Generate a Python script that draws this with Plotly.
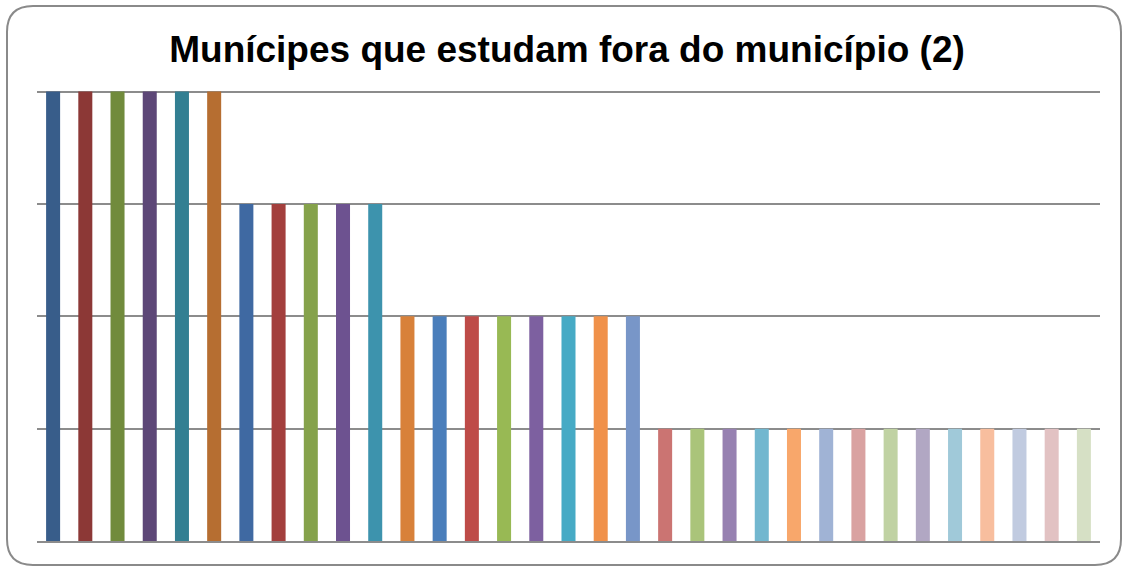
import plotly.graph_objects as go

# Bar categories (no visible labels on the axis) and their counts
categories = [f"M{i}" for i in range(1, 34)]
values = [4, 4, 4, 4, 4, 4,
          3, 3, 3, 3, 3,
          2, 2, 2, 2, 2, 2, 2, 2,
          1, 1, 1, 1, 1, 1, 1, 1, 1, 1, 1, 1, 1, 1]

bar_colors = [
    "#385D8A", "#8C3836", "#718B3C", "#5D4777", "#327F92", "#B66E31",
    "#3F69A2", "#A33F3D", "#85A24B", "#6D5290", "#3D93AD",
    "#D8813A", "#4A7EBB", "#BE4B48", "#98B954", "#7D60A0", "#46AAC5", "#F0914A", "#7896C8",
    "#CB7472", "#AAC47A", "#9781B1", "#72B7CF", "#F8A76B", "#A0B3D5", "#D9A2A1",
    "#C0D2A3", "#B1A7C3", "#A0C9D9", "#F8BE9E", "#C1CBE0", "#E2C2C3", "#D6E0C5",
]

W, H = 1123, 568
ml, mr, mt, mb = 37, 23, 86, 27
pw, ph = W - ml - mr, H - mt - mb
y_max = 4.05  # headroom so the top gridline at 4 is drawn

fig = go.Figure(
    go.Bar(
        x=categories,
        y=values,
        marker=dict(color=bar_colors, line=dict(width=0)),
        hoverinfo="x+y",
    )
)


def px_x(v):
    return (v - ml) / pw


def px_y(v):
    return 1 - (v - mt) / ph


# Rounded chart border
x0, x1, y0, y1, r = 7, 1121, 6, 565, 26
rx, ry = r / pw, r / ph
X0, X1, Y0, Y1 = px_x(x0), px_x(x1), px_y(y0), px_y(y1)
path = (
    f"M {X0 + rx},{Y0} L {X1 - rx},{Y0} Q {X1},{Y0} {X1},{Y0 - ry} "
    f"L {X1},{Y1 + ry} Q {X1},{Y1} {X1 - rx},{Y1} "
    f"L {X0 + rx},{Y1} Q {X0},{Y1} {X0},{Y1 + ry} "
    f"L {X0},{Y0 - ry} Q {X0},{Y0} {X0 + rx},{Y0} Z"
)

fig.update_layout(
    width=W,
    height=H,
    margin=dict(l=ml, r=mr, t=mt, b=mb),
    paper_bgcolor="white",
    plot_bgcolor="white",
    bargap=0.565,
    showlegend=False,
    title=dict(
        text="<b>Munícipes que estudam fora do município (2)</b>",
        x=567 / W,
        xanchor="center",
        y=1 - 49 / H,
        yanchor="middle",
        font=dict(family="Liberation Sans, Arial, sans-serif", size=37, color="#000000"),
    ),
    xaxis=dict(
        showticklabels=False,
        showgrid=False,
        zeroline=False,
        showline=True,
        linecolor="#8C8C8C",
        linewidth=2,
        ticks="",
    ),
    yaxis=dict(
        range=[0, y_max],
        tickvals=[1, 2, 3, 4],
        showticklabels=False,
        showgrid=True,
        gridcolor="#8C8C8C",
        gridwidth=1.5,
        zeroline=False,
        showline=False,
        ticks="",
    ),
    shapes=[
        dict(
            type="path",
            xref="paper",
            yref="paper",
            path=path,
            line=dict(color="#8A8A8A", width=2),
            fillcolor="rgba(0,0,0,0)",
            layer="below",
        )
    ],
)

fig.write_html("out.html")
